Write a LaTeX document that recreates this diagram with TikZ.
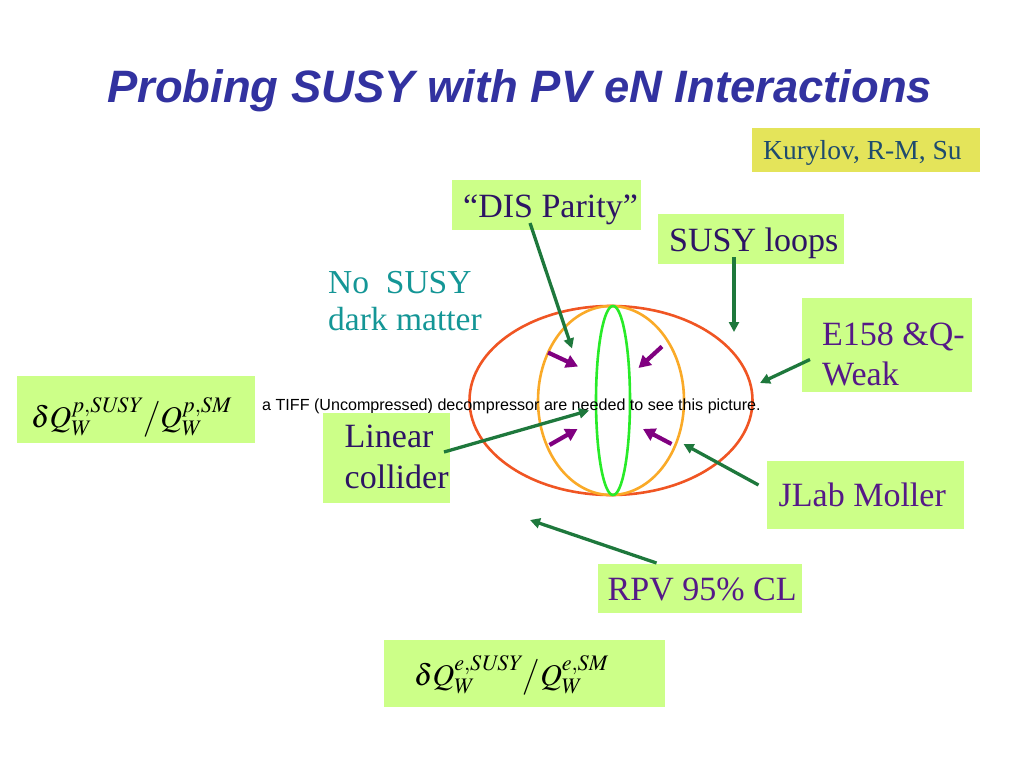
\documentclass[tikz,border=0pt]{standalone}
\usepackage{mathptmx}
\usepackage{fontspec}
\setmainfont{Liberation Serif}
\newfontfamily\titlefont{Liberation Sans}
\usetikzlibrary{arrows.meta}
\definecolor{boxgreen}{RGB}{204,255,136}
\definecolor{boxyellow}{RGB}{228,228,90}
\definecolor{titleblue}{RGB}{50,50,160}
\definecolor{darkind}{RGB}{45,20,100}
\definecolor{purptxt}{RGB}{85,25,135}
\definecolor{kurtxt}{RGB}{30,75,110}
\definecolor{tealtxt}{RGB}{20,150,150}
\definecolor{ellred}{RGB}{240,85,35}
\definecolor{ellorange}{RGB}{250,170,40}
\definecolor{ellgreen}{RGB}{40,235,40}
\definecolor{arrgreen}{RGB}{30,120,60}
\definecolor{arrpurple}{RGB}{128,0,128}
\newcommand{\susyratio}[1]{$\delta Q_W^{#1,\mathit{SUSY}}\big/Q_W^{#1,\mathit{SM}}$}
\begin{document}
\begin{tikzpicture}[x=1pt,y=-1pt,
  gbox/.style={fill=boxgreen,draw=none,inner sep=0pt,minimum width=#1},
  lbl/.style={anchor=base west,inner sep=0pt,font=\fontsize{34}{38}\selectfont},
  mathlbl/.style={anchor=base west,inner sep=0pt,font=\fontsize{30}{34}\selectfont},
  garrow/.style={draw=arrgreen,line width=3.3pt,-{Triangle[length=10pt,width=10pt]}},
  parrow/.style={draw=arrpurple,line width=4.2pt,-{Triangle[length=12pt,width=13pt]}}]
\fill[white] (0,0) rectangle (1024,768);
\useasboundingbox (0,0) rectangle (1024,768);
% title
\node[anchor=base west,inner sep=0pt,text=titleblue,font=\titlefont\bfseries\itshape\fontsize{45.4}{50}\selectfont] (title) at (107,102) {Probing SUSY with PV eN Interactions};
% ellipses
\draw[ellred,line width=2.6pt] (611,400.5) ellipse [x radius=141.5,y radius=94.5];
\draw[ellorange,line width=2.6pt] (611,400.5) ellipse [x radius=73,y radius=94.5];
\draw[ellgreen,line width=2.6pt] (613,400.5) ellipse [x radius=17,y radius=94.5];
% tiff text
\node[anchor=base west,inner sep=0pt,font=\titlefont\fontsize{16.1}{18}\selectfont] (tiff) at (262,410) {a TIFF (Uncompressed) decompressor are needed to see this picture.};
% boxes
\node[fill=boxyellow,inner sep=0pt,minimum width=228pt,minimum height=44pt] (kurbox) at (866,150) {};
\node[anchor=base west,inner sep=0pt,text=kurtxt,font=\fontsize{27.5}{30}\selectfont] (kur) at (763,159.5) {Kurylov, R-M, Su};
\node[gbox=189pt,minimum height=50pt] (disbox) at (546.5,205) {};
\node[lbl,text=darkind] (dis) at (463,217.5) {``DIS Parity''};
\node[gbox=186pt,minimum height=50pt] (loopbox) at (751,239) {};
\node[lbl,text=darkind] (loops) at (669,251) {SUSY loops};
\node[gbox=170pt,minimum height=94pt] (ebox) at (887,345) {};
\node[lbl,text=purptxt] (e1) at (822,345) {E158 \&Q-};
\node[lbl,text=purptxt] (e2) at (822,385) {Weak};
\node[gbox=238pt,minimum height=67pt] (pbox) at (136,409.5) {};
\node[mathlbl] (pq) at (31,427) {\susyratio{p}};
\node[gbox=127pt,minimum height=90pt] (linbox) at (386.5,458) {};
\node[lbl,text=darkind] (lin1) at (344.5,447) {Linear};
\node[lbl,text=darkind] (lin2) at (344.5,488.5) {collider};
\node[gbox=197pt,minimum height=68pt] (jbox) at (865.5,495) {};
\node[lbl,text=purptxt] (jlab) at (778.5,506.5) {JLab Moller};
\node[gbox=204pt,minimum height=49pt] (rbox) at (700,588.5) {};
\node[lbl,text=purptxt] (rpv) at (607.5,600) {RPV 95\% CL};
\node[gbox=281pt,minimum height=67pt] (ebox2) at (524.5,673.5) {};
\node[mathlbl] (eq) at (414,685) {\susyratio{e}};
% no susy
\node[anchor=base west,inner sep=0pt,text=tealtxt,font=\fontsize{33.5}{38}\selectfont] (nosusy) at (328,293.5) {No\ \ SUSY};
\node[anchor=base west,inner sep=0pt,text=tealtxt,font=\fontsize{33.5}{38}\selectfont] (dm) at (328,330.5) {dark matter};
% arrow coordinates
\coordinate (disS) at (530,223);
\coordinate (disE) at (572,348.5);
\coordinate (loopS) at (734,257);
\coordinate (loopE) at (734,332);
\coordinate (eS) at (810,359.5);
\coordinate (eE) at (760,383);
\coordinate (jS) at (758.5,485);
\coordinate (jE) at (683.5,444);
\coordinate (linS) at (444,452);
\coordinate (linE) at (589,410.5);
\coordinate (rS) at (656.5,563);
\coordinate (rE) at (530,520);
\coordinate (p1S) at (548,352.5);
\coordinate (p1E) at (578,366.5);
\coordinate (p2S) at (662,346.5);
\coordinate (p2E) at (638.5,368);
\coordinate (p3S) at (549.5,445);
\coordinate (p3E) at (577.5,429);
\coordinate (p4S) at (671.5,444);
\coordinate (p4E) at (643,429);
% arrows
\draw[garrow] (disS) -- (disE);
\draw[garrow] (loopS) -- (loopE);
\draw[garrow] (eS) -- (eE);
\draw[garrow] (jS) -- (jE);
\draw[garrow] (linS) -- (linE);
\draw[garrow] (rS) -- (rE);
\draw[parrow] (p1S) -- (p1E);
\draw[parrow] (p2S) -- (p2E);
\draw[parrow] (p3S) -- (p3E);
\draw[parrow] (p4S) -- (p4E);
\end{tikzpicture}
\end{document}
